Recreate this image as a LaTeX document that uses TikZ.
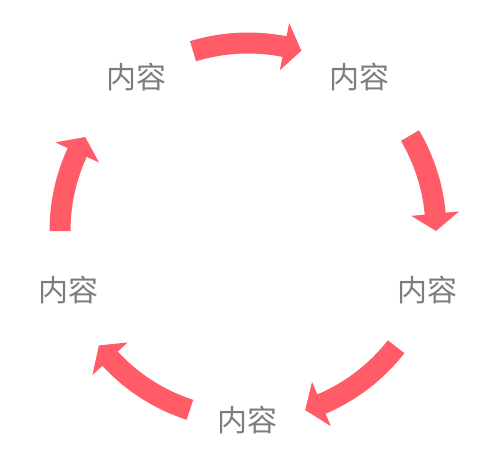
\documentclass[tikz,border=0pt]{standalone}
\usepackage{fontspec}
\newfontfamily\cjk{Noto Sans CJK SC}
\definecolor{arrowred}{RGB}{255,92,104}
\definecolor{labelgray}{RGB}{125,125,125}
\newcommand\cyclearrow[2]{%
  \pgfmathsetmacro\hb{#2+5.3}%
  \fill[arrowred] (#1:198.5) arc[start angle=#1, end angle=\hb, radius=198.5]
    -- (\hb:212) -- (#2:188) -- (\hb:164) -- (\hb:177.5)
    arc[start angle=\hb, end angle=#1, radius=177.5] -- cycle;}
\begin{document}
\begin{tikzpicture}[x=1pt,y=1pt,
  lbl/.style={inner sep=0pt, text=labelgray, font=\cjk\fontsize{30}{30}\selectfont}]
\useasboundingbox (0,0) rectangle (500,456);
\begin{scope}[shift={(248,225)}]
  \cyclearrow{107}{73.5}
  \cyclearrow{30.5}{0}
  \cyclearrow{-38}{-72.3}
  \cyclearrow{252}{217.5}
  \cyclearrow{180}{150}
\end{scope}
\node[lbl] (n1) at (136,379) {内容};
\node[lbl] (n2) at (359,379) {内容};
\node[lbl] (n3) at (427,166) {内容};
\node[lbl] (n4) at (247,36) {内容};
\node[lbl] (n5) at (68,166) {内容};
\end{tikzpicture}
\end{document}
